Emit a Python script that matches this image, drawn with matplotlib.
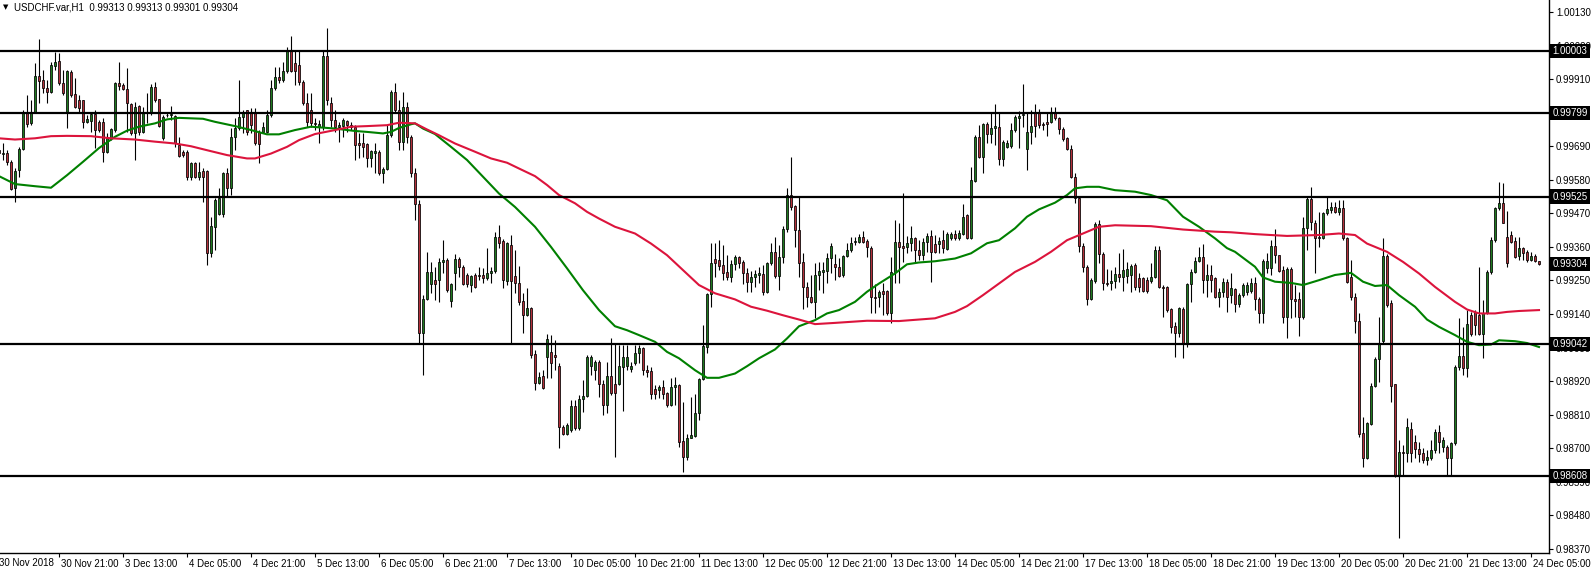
import numpy as np
import matplotlib
matplotlib.use("Agg")
import matplotlib.pyplot as plt
import matplotlib.transforms as mtransforms

# ---------------- data (prices in points, 1 point = 0.00001) ----------------
POINT = 1e5

opens_pts = [
99684,99677,99664,99667,99638,99553,99612,99681,99799,99766,99802,99920,99907,99880,99867,99953,99969,99897,99802,99933,
99861,99841,99841,99769,99772,99795,99769,99769,99671,99717,99743,99897,99890,99877,99828,99733,99821,99736,99799,99799,
99884,99844,99717,99791,99792,99789,99694,99671,99671,99589,99635,99589,99608,99608,99340,99425,99468,99468,99602,99553,
99720,99749,99785,99808,99802,99799,99736,99736,99736,99792,99880,99917,99907,99936,100005,99962,99956,99900,99831,99808,
99766,99753,99753,99985,99831,99776,99753,99756,99772,99759,99753,99700,99700,99697,99651,99667,99671,99602,99615,99726,
99867,99808,99703,99818,99720,99602,99500,99077,99189,99238,99251,99251,99310,99317,99182,99274,99320,99294,99267,99235,
99267,99267,99267,99258,99274,99281,99392,99379,99248,99366,99264,99241,99182,99136,99159,99009,98913,98936,98999,99015,
99005,98969,98769,98746,98759,98838,98766,98861,98871,98969,98956,98982,98910,98841,98936,98910,98910,98966,98969,98959,
98979,99012,99028,98956,98953,98894,98891,98900,98881,98841,98900,98907,98723,98671,98733,98740,98815,98927,99031,99205,
99320,99317,99300,99277,99261,99304,99327,99310,99274,99245,99261,99267,99271,99212,99307,99343,99264,99327,99418,99530,
99494,99415,99310,99228,99195,99179,99267,99277,99281,99323,99304,99294,99267,99330,99349,99376,99376,99392,99379,99356,
99195,99195,99215,99215,99143,99277,99376,99363,99359,99372,99389,99349,99333,99376,99395,99369,99369,99382,99353,99389,
99402,99389,99402,99464,99389,99576,99720,99654,99762,99730,99749,99753,99648,99687,99690,99743,99782,99792,99681,99736,
99799,99799,99762,99769,99769,99802,99782,99746,99717,99681,99589,99520,99363,99294,99189,99248,99435,99336,99241,99241,
99248,99271,99261,99264,99267,99300,99258,99258,99251,99248,99261,99349,99228,99228,99156,99100,99077,99156,99045,99238,
99277,99313,99327,99251,99267,99258,99195,99212,99245,99202,99222,99172,99202,99212,99215,99241,99189,99143,99290,99290,
99363,99333,99284,99130,99287,99189,99189,99130,99422,99517,99438,99392,99389,99471,99481,99490,99474,99487,99389,99261,
99195,99117,98750,98668,98779,98904,98992,99051,99330,99176,98910,98612,98687,98684,98763,98720,98697,98684,98661,98668,
98694,98753,98704,98704,98668,98717,98966,99002,98963,99136,99146,99136,99074,99143,99277,99382,99487,99503,99392,99399,
99379,99330,99356,99343,99317,99330,99313]

closes_pts = [
99677,99667,99667,99638,99549,99608,99681,99802,99762,99799,99920,99903,99880,99867,99956,99966,99897,99864,99936,99858,
99818,99815,99769,99779,99795,99743,99743,99671,99717,99746,99897,99887,99877,99831,99733,99818,99736,99802,99802,99884,
99841,99756,99785,99793,99795,99700,99658,99661,99589,99635,99589,99605,99589,99340,99428,99513,99520,99602,99553,99720,
99749,99785,99799,99736,99759,99700,99697,99753,99792,99880,99917,99907,99936,100005,99936,99936,99900,99831,99769,99766,
99762,99762,99985,99841,99776,99753,99759,99776,99759,99753,99694,99694,99687,99651,99674,99674,99602,99615,99726,99867,
99808,99703,99818,99720,99602,99500,99077,99189,99277,99277,99238,99310,99317,99218,99238,99320,99294,99238,99238,99264,
99228,99264,99258,99274,99281,99392,99372,99251,99372,99248,99241,99179,99136,99159,99005,98913,98933,98897,99058,98979,
98999,98769,98746,98776,98838,98766,98861,98871,98999,98999,98982,98910,98841,98936,98881,98881,98969,98999,98999,98969,
99012,99028,98956,98950,98877,98877,98900,98877,98841,98900,98907,98720,98671,98733,98743,98815,98927,99035,99205,99307,
99307,99297,99274,99261,99304,99327,99307,99274,99245,99261,99271,99274,99212,99307,99343,99264,99327,99418,99530,99490,
99415,99307,99228,99195,99179,99267,99281,99284,99323,99363,99294,99264,99330,99349,99372,99379,99392,99376,99359,99195,
99192,99212,99205,99143,99277,99376,99359,99356,99372,99389,99349,99333,99376,99395,99343,99343,99379,99356,99402,99402,
99389,99405,99458,99389,99579,99720,99654,99762,99730,99749,99756,99648,99703,99700,99743,99785,99789,99795,99736,99756,
99756,99759,99759,99762,99802,99782,99746,99713,99681,99589,99520,99363,99294,99189,99251,99435,99336,99241,99238,99248,
99271,99261,99284,99287,99297,99228,99228,99215,99215,99261,99349,99228,99225,99153,99097,99077,99159,99045,99238,99277,
99313,99327,99251,99267,99251,99195,99212,99245,99195,99225,99172,99202,99235,99235,99241,99189,99143,99313,99313,99363,
99333,99281,99130,99287,99189,99182,99130,99422,99517,99441,99389,99389,99471,99484,99490,99474,99487,99389,99245,99195,
99117,98746,98668,98782,98904,98992,99045,99330,99169,98904,98612,98687,98684,98769,98684,98697,98681,98661,98671,98694,
98753,98720,98727,98668,98717,98966,99002,98963,99107,99074,99104,99074,99143,99277,99382,99487,99503,99438,99307,99376,
99327,99356,99340,99317,99330,99313,99304]

highs_pts = [
99694,99690,99700,99677,99644,99618,99687,99808,99858,99841,99962,100041,99940,99907,99966,99999,99995,99940,99940,99940,
99913,99858,99841,99792,99802,99808,99776,99782,99733,99749,99900,99966,99897,99946,99831,99835,99825,99818,99864,99894,
99900,99844,99792,99799,99821,99792,99720,99677,99677,99638,99638,99638,99618,99612,99458,99520,99553,99605,99618,99749,
99782,99907,99808,99808,99815,99815,99743,99769,99808,99907,99949,99949,99966,100015,100051,100005,100005,99907,99864,99864,
99782,99776,100005,100077,99851,99808,99769,99782,99776,99769,99759,99733,99733,99700,99677,99700,99677,99622,99759,99874,
99897,99841,99867,99835,99726,99618,99513,99202,99343,99310,99294,99323,99382,99323,99241,99336,99327,99300,99274,99267,
99274,99294,99290,99356,99294,99408,99431,99386,99376,99399,99349,99297,99208,99225,99163,99022,98950,98956,99074,99071,
99054,98979,98776,98782,98858,98858,98874,98923,99005,99005,98989,98989,98923,98982,99061,99045,99038,99038,99038,98982,
99038,99038,99031,98972,98966,98907,98907,98923,98884,98930,98933,98910,98851,98746,98868,98877,98930,99104,99208,99372,
99372,99382,99366,99333,99317,99333,99330,99317,99290,99281,99284,99294,99300,99310,99372,99392,99366,99428,99553,99654,
99497,99523,99340,99245,99267,99307,99310,99310,99340,99372,99336,99323,99333,99372,99392,99392,99402,99412,99386,99363,
99238,99218,99241,99218,99327,99448,99438,99536,99395,99428,99392,99382,99389,99405,99415,99399,99392,99415,99408,99408,
99415,99415,99500,99468,99622,99726,99759,99766,99769,99799,99828,99802,99710,99710,99766,99792,99805,99894,99799,99808,
99828,99812,99769,99799,99818,99818,99785,99753,99720,99694,99602,99523,99372,99300,99258,99441,99448,99343,99287,99284,
99294,99340,99353,99310,99304,99307,99274,99261,99261,99307,99363,99363,99235,99231,99159,99113,99163,99163,99241,99287,
99327,99359,99369,99304,99300,99261,99225,99258,99254,99274,99225,99208,99241,99245,99258,99261,99195,99320,99340,99382,
99418,99333,99297,99294,99294,99235,99212,99458,99523,99556,99448,99474,99474,99523,99507,99507,99513,99513,99392,99317,
99208,99143,98802,98786,98913,98999,99130,99389,99336,99186,98910,98727,98710,98799,98786,98743,98720,98700,98694,98727,
98763,98776,98736,98710,98720,98972,99127,99097,99153,99146,99153,99294,99186,99284,99392,99490,99572,99569,99477,99412,
99392,99392,99359,99349,99343,99336,99313]

lows_pts = [
99661,99651,99644,99628,99546,99507,99589,99677,99753,99759,99799,99831,99864,99831,99864,99940,99890,99858,99749,99851,
99815,99802,99749,99766,99736,99684,99736,99638,99667,99710,99736,99874,99874,99736,99726,99644,99726,99733,99766,99792,
99835,99753,99710,99785,99776,99687,99654,99654,99579,99579,99585,99579,99507,99300,99327,99349,99464,99458,99523,99530,
99677,99743,99733,99726,99733,99694,99635,99733,99733,99785,99874,99897,99900,99930,99933,99890,99890,99825,99753,99753,
99743,99700,99743,99825,99753,99736,99703,99720,99736,99743,99644,99651,99654,99622,99622,99602,99595,99569,99612,99720,
99799,99677,99677,99700,99589,99448,99045,98940,99186,99208,99186,99179,99274,99212,99163,99218,99261,99235,99228,99212,
99225,99251,99241,99251,99241,99274,99356,99225,99235,99045,99208,99169,99077,99133,98995,98891,98910,98894,98930,98930,
98956,98700,98743,98743,98753,98759,98759,98818,98868,98940,98923,98868,98809,98815,98874,98671,98907,98822,98956,98950,
98972,98979,98940,98933,98861,98861,98864,98861,98835,98838,98841,98704,98622,98661,98733,98736,98792,98923,99012,99163,
99261,99284,99251,99251,99245,99284,99290,99238,99212,99212,99228,99241,99202,99208,99300,99258,99218,99307,99408,99481,
99359,99261,99156,99163,99176,99127,99218,99208,99241,99274,99251,99261,99261,99327,99343,99366,99372,99372,99327,99143,
99143,99163,99136,99136,99110,99241,99241,99310,99340,99346,99310,99317,99317,99343,99245,99340,99340,99340,99349,99382,
99382,99382,99399,99386,99386,99572,99651,99602,99700,99700,99694,99628,99625,99684,99684,99736,99684,99753,99612,99697,
99720,99749,99743,99723,99766,99776,99730,99707,99677,99585,99503,99343,99277,99169,99186,99241,99307,99218,99231,99218,
99225,99245,99215,99241,99212,99218,99212,99212,99208,99241,99258,99225,99130,99146,99077,98999,99064,98995,99031,99179,
99274,99310,99208,99195,99212,99192,99163,99195,99146,99176,99146,99163,99195,99202,99208,99153,99110,99110,99274,99267,
99307,99277,99110,99061,99127,99130,99068,99123,99349,99415,99274,99359,99386,99464,99471,99471,99464,99382,99241,99186,
99077,98736,98638,98665,98776,98900,98917,99045,99163,98851,98605,98405,98612,98655,98655,98668,98655,98651,98645,98661,
98684,98684,98687,98612,98612,98710,98956,98940,98933,99068,99071,99071,98995,99140,99271,99376,99481,99438,99294,99372,
99323,99317,99317,99310,99313,99310,99301]

# moving averages, sampled at these bar numbers (points)
ma_green_bars = [1,5,10,14,18,22,26,30,33,36,40,43,46,50,52,55,60,64,68,71,75,79,85,90,93,97,99,101,104,105,107,110,
                 114,118,122,126,130,135,139,143,147,151,155,158,161,165,168,171,175,178,181,185,188,191,195,198,201,
                 205,208,211,215,218,221,225,228,231,235,240,244,248,251,255,258,261,265,268,270,273,276,280,285,289,
                 293,297,301,305,308,310,315,317,320,324,327,331,335,339,342,345,348,351,355,358,361,365,368,371,374,
                 376,380,383,386]
ma_green_pts = [99592,99566,99559,99554,99595,99639,99684,99721,99741,99754,99765,99778,99783,99781,99780,99770,99756,
                99743,99729,99729,99743,99754,99748,99740,99737,99732,99737,99750,99762,99765,99748,99730,99688,99645,
                99590,99535,99491,99426,99360,99290,99218,99153,99100,99087,99071,99049,99016,98995,98956,98931,98931,
                98945,98969,98995,99024,99060,99100,99120,99142,99153,99180,99213,99240,99273,99303,99309,99313,99322,
                99339,99372,99382,99421,99459,99483,99505,99530,99552,99557,99557,99546,99541,99530,99513,99459,99426,
                99388,99356,99344,99295,99260,99246,99242,99235,99251,99268,99275,99246,99232,99235,99202,99164,99122,
                99098,99071,99049,99038,99040,99054,99051,99045,99032]

ma_red_bars = [1,5,10,14,18,24,29,35,40,45,49,53,58,63,65,69,73,76,80,85,89,93,98,101,105,108,111,115,120,124,128,131,
               135,138,141,145,148,151,155,160,164,168,172,176,180,185,189,193,197,201,205,210,218,226,231,235,240,243,
               247,251,255,260,264,268,272,276,280,289,297,305,309,315,323,331,336,340,343,348,352,356,360,365,368,371,
               375,378,381,386]
ma_red_pts = [99716,99712,99716,99723,99724,99723,99716,99712,99705,99699,99690,99677,99661,99650,99650,99666,99688,
              99710,99730,99743,99754,99756,99759,99767,99765,99745,99726,99699,99672,99650,99636,99617,99592,99563,
              99530,99503,99475,99453,99426,99404,99371,99333,99284,99235,99208,99188,99164,99151,99136,99122,99107,
              99111,99118,99117,99122,99126,99147,99166,99202,99240,99278,99311,99344,99382,99404,99426,99431,99428,
              99417,99410,99408,99402,99396,99399,99404,99399,99371,99344,99311,99273,99229,99180,99155,99142,99142,
              99147,99150,99153]

levels = [1.00003, 0.99799, 0.99525, 0.99042, 0.98608]
current_price = 0.99304

ytick_values = [0.98370, 0.98480, 0.98590, 0.98700, 0.98810, 0.98920, 0.99030, 0.99140, 0.99250,
                0.99360, 0.99470, 0.99580, 0.99690, 0.99800, 0.99910, 1.00020, 1.00130]
ytick_hidden = [0.99800]   # fully covered by the 0.99799 price box in the reference

xtick_bars = [16, 32, 48, 64, 80, 96, 112, 128, 144, 160, 176, 192, 208, 224, 240, 256,
              272, 288, 304, 320, 336, 352, 368, 384]
xtick_labels = ["30 Nov 21:00", "3 Dec 13:00", "4 Dec 05:00", "4 Dec 21:00", "5 Dec 13:00",
                "6 Dec 05:00", "6 Dec 21:00", "7 Dec 13:00", "10 Dec 05:00", "10 Dec 21:00",
                "11 Dec 13:00", "12 Dec 05:00", "12 Dec 21:00", "13 Dec 13:00", "14 Dec 05:00",
                "14 Dec 21:00", "17 Dec 13:00", "18 Dec 05:00", "18 Dec 21:00", "19 Dec 13:00",
                "20 Dec 05:00", "20 Dec 21:00", "21 Dec 13:00", "24 Dec 05:00"]
first_label = "30 Nov 2018"
title_text = "USDCHF.var,H1  0.99313 0.99313 0.99301 0.99304"

# ---------------- figure ----------------
opens = np.array(opens_pts) / POINT
closes = np.array(closes_pts) / POINT
highs = np.array(highs_pts) / POINT
lows = np.array(lows_pts) / POINT
bars = np.arange(len(closes))

FONT = "Liberation Sans"
W, H = 1593, 571
fig = plt.figure(figsize=(W / 100, H / 100), dpi=100)
fig.patch.set_facecolor("white")
ax = fig.add_axes([0, 18 / H, 1549 / W, 553 / H])
ax.set_facecolor("white")

GREEN_BODY = "#1f7a1f"
RED_BODY = "#b3303a"

# wicks
ax.vlines(bars, np.minimum(lows, np.minimum(opens, closes)),
          np.maximum(highs, np.maximum(opens, closes)),
          color="black", linewidth=0.8, zorder=2)
# bodies
up = closes >= opens
body_bottom = np.minimum(opens, closes)
body_h = np.abs(closes - opens)
colors = np.where(up, GREEN_BODY, RED_BODY)
ax.bar(bars, body_h, bottom=body_bottom, width=0.72, color=colors,
       edgecolor="black", linewidth=0.55, zorder=3)

# moving averages
ax.plot(ma_green_bars, np.array(ma_green_pts) / POINT, color="#008000", linewidth=1.5, zorder=4)
ax.plot(ma_red_bars, np.array(ma_red_pts) / POINT, color="#dc143c", linewidth=1.5, zorder=4)

# horizontal levels
for lv in levels:
    ax.axhline(lv, color="black", linewidth=1.6, zorder=5)

ax.set_xlim(1.25, 388.5)
ax.set_ylim(0.983568, 1.001693)

for s in ["top", "left"]:
    ax.spines[s].set_visible(False)
for s in ["right", "bottom"]:
    ax.spines[s].set_color("black")
    ax.spines[s].set_linewidth(1.0)

# y axis on the right
ax.yaxis.tick_right()
ax.set_yticks(ytick_values)
ax.set_yticklabels(["" if v in ytick_hidden else f"{v:.5f}" for v in ytick_values],
                   fontfamily=FONT, fontsize=7)
ax.tick_params(axis="y", direction="out", length=3, width=0.8, pad=2, colors="black")

# x axis
ax.set_xticks(xtick_bars)
ax.set_xticklabels(xtick_labels, fontfamily=FONT, fontsize=7)
ax.tick_params(axis="x", direction="out", length=3, width=0.8, pad=1, colors="black")
offset = mtransforms.ScaledTranslation(2 / 100, 0, fig.dpi_scale_trans)
for lab in ax.get_xticklabels():
    lab.set_horizontalalignment("left")
    lab.set_transform(lab.get_transform() + offset)

fig.text(-1 / W, 1 - 563 / H, first_label, fontfamily=FONT, fontsize=7,
         ha="left", va="center", color="black")

# price boxes
trans = mtransforms.blended_transform_factory(ax.transAxes, ax.transData)
box_off = mtransforms.ScaledTranslation(3.5 / 100, 0, fig.dpi_scale_trans)
for lv in levels + [current_price]:
    ax.text(1.0, lv, f"{lv:.5f}", transform=trans + box_off, ha="left", va="center",
            fontfamily=FONT, fontsize=7, color="white", zorder=10, clip_on=False,
            bbox=dict(boxstyle="square,pad=0.22", facecolor="black", edgecolor="none"))

# title
fig.text(3 / W, 1 - 7 / H, "\u25BC", fontfamily="DejaVu Sans", fontsize=5,
         ha="left", va="center", color="black")
fig.text(14 / W, 1 - 7 / H, title_text, fontfamily=FONT, fontsize=7,
         ha="left", va="center", color="black")

fig.savefig("out.png", dpi=100, facecolor="white")
